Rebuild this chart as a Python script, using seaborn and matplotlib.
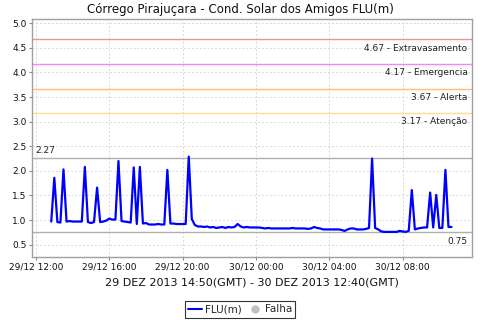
import numpy as np
import pandas as pd
import matplotlib
matplotlib.use("Agg")
import matplotlib.pyplot as plt
import matplotlib.dates as mdates
from matplotlib.lines import Line2D
import seaborn as sns

# ---- data ----
start_time = "2013-12-29 12:50"
step = "10min"
flu_values = [
    0.97, 1.86, 0.96, 0.95, 2.03, 0.97, 0.98, 0.97, 0.97, 0.97,
    0.97, 2.08, 0.96, 0.94, 0.96, 1.66, 0.96, 0.97, 0.99, 1.03,
    1.01, 1.01, 2.20, 0.98, 0.97, 0.96, 0.95, 2.07, 0.92, 2.08,
    0.93, 0.94, 0.91, 0.91, 0.91, 0.92, 0.91, 0.91, 2.02, 0.93,
    0.93, 0.92, 0.92, 0.92, 0.92, 2.29, 1.02, 0.90, 0.87, 0.87,
    0.86, 0.87, 0.85, 0.86, 0.84, 0.85, 0.86, 0.84, 0.86, 0.85,
    0.86, 0.92, 0.87, 0.85, 0.86, 0.85, 0.85, 0.85, 0.85, 0.84,
    0.83, 0.84, 0.83, 0.83, 0.83, 0.83, 0.83, 0.83, 0.83, 0.84,
    0.83, 0.83, 0.83, 0.83, 0.82, 0.83, 0.86, 0.84, 0.83, 0.81,
    0.81, 0.81, 0.81, 0.81, 0.81, 0.80, 0.78, 0.81, 0.83, 0.83,
    0.81, 0.81, 0.81, 0.82, 0.84, 2.25, 0.84, 0.81, 0.77, 0.76,
    0.76, 0.76, 0.76, 0.76, 0.78, 0.77, 0.76, 0.78, 1.61, 0.81,
    0.83, 0.84, 0.85, 0.85, 1.56, 0.85, 1.51, 0.84, 0.84, 2.02,
    0.86, 0.86,
]
threshold_values = [4.67, 4.17, 3.67, 3.17]
threshold_labels = ["4.67 - Extravasamento", "4.17 - Emergencia",
                    "3.67 - Alerta", "3.17 - Atenção"]
threshold_colors = ["#f09090", "#ff80ff", "#ffc070", "#ffe08a"]
max_value = 2.27
min_value = 0.75

title = "Córrego Pirajuçara - Cond. Solar dos Amigos FLU(m)"
xlabel = "29 DEZ 2013 14:50(GMT) - 30 DEZ 2013 12:40(GMT)"

times = pd.date_range(start_time, periods=len(flu_values), freq=step)
df = pd.DataFrame({"time": times, "FLU(m)": flu_values})

sns.set_theme(style="white")
plt.rcParams["font.family"] = ["DejaVu Sans"]

fig = plt.figure(figsize=(4.8, 3.2), dpi=100)
ax = fig.add_axes([32 / 480, 1 - 257 / 320, 440 / 480, 238 / 320])

gray = "#b0b0b0"
for v, lab, c in zip(threshold_values, threshold_labels, threshold_colors):
    ax.axhline(v, color=c, lw=1.0, zorder=2)
    ax.annotate(lab, xy=(0.99, v), xycoords=("axes fraction", "data"),
                xytext=(0, -3), textcoords="offset points",
                ha="right", va="top", fontsize=6.5, color="#222222")
ax.axhline(max_value, color=gray, lw=1.0, zorder=2)
ax.annotate(f"{max_value:.2f}", xy=(0.008, max_value), xycoords=("axes fraction", "data"),
            xytext=(0, 2), textcoords="offset points",
            ha="left", va="bottom", fontsize=6.5, color="#222222")
ax.axhline(min_value, color=gray, lw=1.0, zorder=2)
ax.annotate(f"{min_value:.2f}", xy=(0.99, min_value), xycoords=("axes fraction", "data"),
            xytext=(0, -3), textcoords="offset points",
            ha="right", va="top", fontsize=6.5, color="#222222")

sns.lineplot(data=df, x="time", y="FLU(m)", ax=ax, color="#0000ff", lw=1.6, zorder=3)

ax.set_xlim(pd.Timestamp("2013-12-29 11:47"), pd.Timestamp("2013-12-30 11:47"))
ax.set_ylim(0.25, 5.085)
ax.set_yticks(np.arange(0.5, 5.01, 0.5))
ax.yaxis.set_major_formatter(matplotlib.ticker.FormatStrFormatter("%.1f"))
ax.xaxis.set_major_locator(mdates.HourLocator(byhour=[0, 4, 8, 12, 16, 20]))
ax.xaxis.set_major_formatter(mdates.DateFormatter("%d/%m %H:%M"))

ax.grid(True, color="#d8d8d8", ls=(0, (2, 2)), lw=0.7)
ax.tick_params(axis="both", labelsize=6.5, length=2, width=0.8, color="#888888",
               pad=2, labelcolor="#111111", direction="out")
ax.tick_params(axis="x", bottom=True)
ax.tick_params(axis="y", left=True)
for s in ax.spines.values():
    s.set_color("#a0a0a0")
    s.set_linewidth(1.0)

ax.set_ylabel("")
ax.set_xlabel(xlabel, fontsize=8, color="#111111", labelpad=4)
fig.text(0.5, 1 - 9 / 320, title, ha="center", va="center", fontsize=8.5, color="#111111")

handles = [Line2D([], [], color="#0000ff", lw=1.5),
           Line2D([], [], color="#c0c0c0", marker="o", ls="none", markersize=5)]
leg = fig.legend(handles, ["FLU(m)", "Falha"], loc="center",
                 bbox_to_anchor=(240 / 480, 1 - 309.5 / 320), ncol=2, fontsize=7.5,
                 frameon=True, fancybox=False, borderpad=0.3, handlelength=1.4,
                 handletextpad=0.3, columnspacing=0.5, borderaxespad=0)
leg.get_frame().set_edgecolor("black")
leg.get_frame().set_linewidth(0.8)

fig.savefig("out.png", dpi=100)
